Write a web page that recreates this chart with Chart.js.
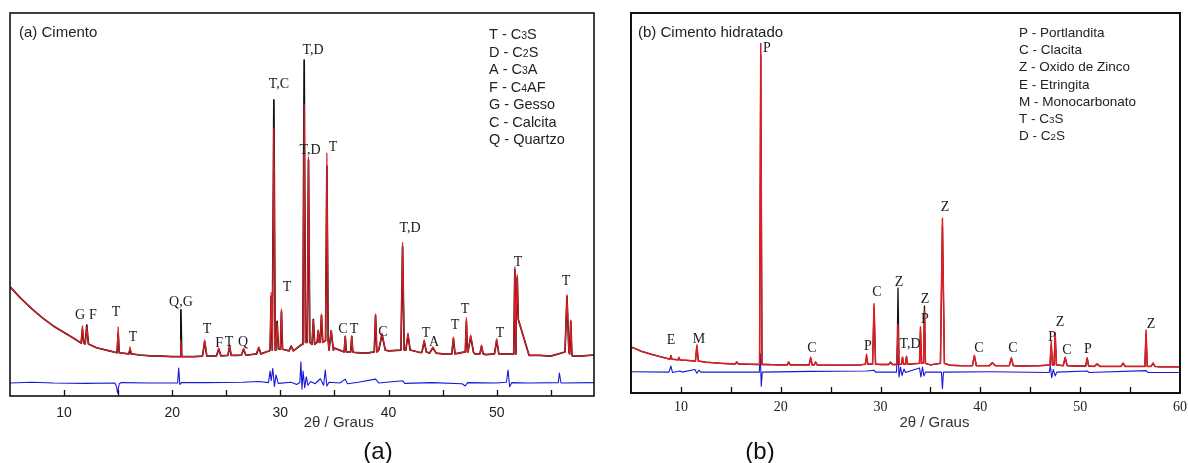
<!DOCTYPE html>
<html>
<head>
<meta charset="utf-8">
<script src="https://cdn.jsdelivr.net/npm/chart.js@4.4.1/dist/chart.umd.min.js"></script>
<style>
  body { margin: 0; background: #fff; }
  #wrap { position: relative; width: 1188px; height: 463px; overflow: hidden; }
  canvas { position: absolute; top: 0; }
</style>
</head>
<body>
<div id="wrap">
  <canvas id="chartA" width="600" height="463" style="left:0"></canvas>
  <canvas id="chartB" width="588" height="463" style="left:600px"></canvas>
</div>
<script>
// (a) Cimento - background of the pattern (2θ, intensity)
const cimBgX = [5, 5.5, 6, 7, 8, 9, 10, 11, 12, 13, 14, 15, 16, 17, 18, 19, 20, 21, 22, 24, 26, 27, 28, 29, 30, 31, 32, 33, 35, 36, 37, 38, 40, 42, 43, 44, 45, 46, 48, 49, 50, 52, 53, 54, 55, 57, 58, 59];
const cimBgY = [28.5, 27, 25.5, 22.8, 20.4, 18.3, 16.6, 14.9, 13.6, 12.6, 11.9, 11.3, 11.0, 10.7, 10.5, 10.4, 10.3, 10.3, 10.3, 10.5, 10.6, 10.7, 11, 11.8, 12.3, 12.2, 13.5, 13.5, 12.5, 11.5, 11.3, 11.2, 11.8, 11.8, 11.3, 11.2, 11, 11, 11, 10.8, 10.9, 11, 10.6, 10.6, 10.4, 10.4, 10.5, 10.7];
// peaks: position, observed top, calculated top, base level, half width (2θ)
const cimPeakPos  = [11.7, 12.1, 15.0, 16.1, 20.8, 23.0, 24.3, 25.3, 26.6, 28.0, 29.15, 29.4, 29.7, 30.1, 31.0, 32.2, 32.6, 33.05, 33.5, 33.8, 34.3, 34.7, 36.0, 36.6, 38.8, 39.4, 41.3, 41.8, 43.3, 44.1, 46.0, 47.2, 47.6, 48.6, 50.0, 51.68, 51.9, 56.5, 56.85];
const cimPeakObs  = [18.3, 18.0, 18.0, 12.8, 14.6, 14.6, 12.5, 13.3, 12.5, 12.8, 27, 70, 19, 22.7, 12.8, 76, 62.4, 19.8, 17.2, 21.4, 63.4, 17, 15.7, 15.7, 21.4, 16.4, 40, 16.4, 14.6, 12.8, 15.4, 20.4, 15.9, 13.3, 14.9, 33.7, 31.6, 26.4, 19.8];
const cimPeakCalc = [17.5, 18.5, 16.4, 12.0, 22.5, 14.2, 12.3, 13.0, 12.2, 12.6, 26, 77.3, 19.5, 22, 13, 87.7, 61.6, 20, 17, 21, 60, 17, 15.5, 15.5, 21, 16, 39, 16, 14.3, 12.6, 15, 19.5, 15.5, 13, 14.5, 33, 31, 26, 19.5];
const cimPeakBase = [13.8, 13.6, 11.3, 11.0, 10.3, 10.4, 10.5, 10.6, 10.7, 11.0, 12, 12, 12.2, 12.2, 11.8, 14, 14, 13.5, 14, 14, 14.5, 12, 11.5, 11.5, 11.5, 12, 12, 12, 11.5, 11.2, 11, 11.5, 11.5, 11, 11, 11, 20, 11.5, 11];
const cimPeakW    = [0.12, 0.15, 0.1, 0.12, 0.08, 0.2, 0.2, 0.15, 0.2, 0.2, 0.1, 0.12, 0.12, 0.1, 0.2, 0.12, 0.12, 0.12, 0.1, 0.12, 0.12, 0.2, 0.1, 0.1, 0.12, 0.3, 0.15, 0.2, 0.2, 0.3, 0.15, 0.1, 0.25, 0.15, 0.2, 0.1, 0.1, 0.18, 0.1];
// difference curve
const cimDiffX = [5, 7, 9, 12, 14.7, 14.85, 14.95, 15.1, 15.3, 18, 20.5, 20.6, 20.7, 20.85, 23, 26.5, 28, 28.9, 29.05, 29.15, 29.3, 29.45, 29.6, 29.8, 31, 31.5, 31.8, 31.9, 32.0, 32.1, 32.25, 32.4, 32.55, 32.8, 33.2, 33.7, 34.0, 34.15, 34.3, 34.5, 35.5, 36.0, 36.2, 37.2, 38.8, 39.1, 41.3, 41.5, 44, 46.8, 47.1, 47.3, 50, 50.9, 51.05, 51.2, 51.4, 53, 55.7, 55.8, 55.95, 59];
const cimDiffY = [3.4, 3.6, 3.4, 3.3, 3.4, 2.5, 0.8, 3.2, 3.5, 3.4, 3.4, 7.3, 3.0, 3.5, 3.5, 3.6, 3.8, 3.5, 6.5, 4, 7.2, 2.5, 5.5, 3.3, 3.6, 3.0, 3.5, 8.9, 1.8, 6.5, 2.2, 5, 2.8, 3.8, 3.2, 4.5, 2.8, 6.8, 2.6, 3.6, 3.4, 4.4, 3.2, 3.6, 4.4, 3.4, 4, 3.3, 3.5, 3.2, 2.6, 3.5, 3.4, 3.6, 6.8, 2.4, 3.5, 3.4, 3.5, 6.0, 3.4, 3.5];
// peak labels
const cimLabelText = ['G', 'F', 'T', 'T', 'Q,G', 'T', 'F', 'T', 'Q', 'T,C', 'T', 'T,D', 'T,D', 'T', 'T,D', 'C', 'T', 'C', 'T', 'A', 'T', 'T', 'T', 'T', 'T'];
const cimLabelX = [11.47, 12.67, 14.8, 16.37, 20.81, 23.22, 24.33, 25.25, 26.54, 29.87, 30.61, 33.02, 32.74, 34.87, 41.99, 35.79, 36.81, 39.49, 43.47, 44.21, 46.15, 47.07, 50.31, 51.97, 56.41];
const cimLabelY = [21.1, 21.1, 21.9, 15.4, 24.5, 17.5, 13.8, 14.1, 14.1, 81.5, 28.5, 90.3, 64.2, 65.0, 43.9, 17.5, 17.5, 16.7, 16.4, 14.1, 18.5, 22.5, 16.4, 35.0, 30.0];
const cimLegend = ['T - C3S', 'D - C2S', 'A - C3A', 'F - C4AF', 'G - Gesso', 'C - Calcita', 'Q - Quartzo'];

// (b) Cimento hidratado
const hidBgX = [5, 5.5, 6, 7, 8, 9.5, 10.5, 12.5, 14, 16, 18.5, 20, 22, 24, 26, 28, 30, 33, 35, 37, 38, 40, 42, 44, 46, 49.5, 52.5, 55, 58, 60];
const hidBgY = [12.1, 11.6, 11.0, 10.2, 9.5, 8.8, 8.6, 8.1, 7.8, 7.6, 7.5, 7.4, 7.4, 7.3, 7.3, 7.4, 7.5, 7.6, 7.4, 7.3, 7.2, 7.2, 7.2, 7.1, 7.2, 7.1, 7.0, 7.0, 6.9, 6.9];
const hidPeakPos  = [9.0, 9.8, 11.6, 15.6, 18.0, 20.8, 23.0, 23.5, 28.6, 29.35, 31.0, 31.75, 32.2, 32.6, 34.0, 34.4, 36.2, 39.4, 41.2, 43.1, 47.1, 47.5, 48.5, 50.7, 51.7, 54.3, 56.6, 57.3];
const hidPeakObs  = [9.7, 9.4, 12.6, 8.2, 92, 8.2, 9.4, 8.2, 10.2, 23.5, 8.2, 18, 9.5, 9.7, 17.4, 21.5, 46, 9.9, 8.0, 9.3, 13.5, 15.8, 9.4, 9.3, 7.7, 7.9, 16.6, 7.9];
const hidPeakCalc = [9.9, 9.2, 12.2, 8.0, 89, 8.0, 9.2, 8.0, 9.6, 22.5, 8.0, 27.6, 9.3, 9.5, 16.5, 22.9, 44, 9.7, 7.9, 9.1, 12.5, 14.8, 9.2, 9.1, 7.6, 7.8, 15.5, 7.8];
const hidPeakBase = [8.9, 8.7, 8.4, 7.6, 7.5, 7.4, 7.4, 7.4, 7.6, 7.6, 7.5, 7.5, 7.6, 7.6, 7.8, 7.8, 7.8, 7.2, 7.2, 7.2, 7.4, 7.4, 7.2, 7.1, 7.0, 7.0, 7.0, 7.0];
const hidPeakW    = [0.1, 0.1, 0.15, 0.2, 0.12, 0.15, 0.15, 0.15, 0.12, 0.15, 0.2, 0.1, 0.1, 0.1, 0.1, 0.1, 0.2, 0.2, 0.3, 0.2, 0.12, 0.12, 0.2, 0.15, 0.3, 0.2, 0.12, 0.2];
const hidDiffX = [5, 8.8, 9.0, 9.15, 9.9, 10.1, 11.4, 11.6, 11.8, 12.0, 17.85, 17.95, 18.05, 18.15, 23, 28.6, 29.35, 29.5, 31.6, 31.72, 31.85, 32.0, 32.15, 32.35, 32.5, 33.9, 34.05, 34.2, 34.35, 34.5, 36.1, 36.2, 36.3, 41, 46.9, 47.0, 47.15, 47.3, 47.5, 47.65, 50.7, 50.9, 56.6, 56.8, 60];
const hidDiffY = [5.6, 5.5, 7.1, 5.4, 5.8, 5.5, 6.2, 5.2, 6.0, 5.5, 5.5, 10.3, 1.8, 5.5, 5.7, 5.8, 6, 5.5, 5.5, 13.9, 4.2, 6.8, 4.6, 6.3, 5.4, 6.6, 4.2, 6.8, 4.5, 5.5, 5.5, 1.1, 5.5, 5.6, 5.4, 7.2, 4.0, 6.2, 4.5, 5.5, 5.8, 5.4, 5.9, 5.4, 5.4];
const hidLabelText = ['E', 'M', 'P', 'C', 'P', 'C', 'Z', 'T,D', 'Z', 'P', 'Z', 'C', 'C', 'P', 'Z', 'C', 'P', 'Z'];
const hidLabelX = [9.01, 11.81, 18.62, 23.13, 28.74, 29.64, 31.85, 32.95, 34.45, 34.45, 36.46, 39.86, 43.27, 47.18, 47.98, 48.68, 50.78, 57.09];
const hidLabelY = [13.9, 14.2, 90.8, 11.8, 12.4, 26.6, 29.2, 12.9, 24.7, 19.5, 48.9, 11.8, 11.8, 14.7, 18.7, 11.1, 11.6, 18.2];
const hidLegend = ['P - Portlandita', 'C - Clacita', 'Z - Oxido de Zinco', 'E - Etringita', 'M - Monocarbonato', 'T - C3S', 'D - C2S'];

const RED = 'rgb(226, 28, 34)';
const BLUE = 'rgb(24, 24, 218)';

// background + triangular peaks, sorted along 2θ
function buildProfile(bgX, bgY, pos, top, base, w) {
  const pts = [];
  bgX.forEach((x, i) => {
    const inside = pos.some((p, j) => x >= p - w[j] && x <= p + w[j]);
    if (!inside) pts.push({ x: x, y: bgY[i] });
  });
  pos.forEach((p, j) => {
    pts.push({ x: p - w[j], y: base[j] });
    pts.push({ x: p, y: top[j] });
    pts.push({ x: p + w[j], y: base[j] });
  });
  pts.sort((a, b) => a.x - b.x);
  return pts;
}

function pairs(xs, ys) {
  return xs.map((x, i) => ({ x: x, y: ys[i] }));
}

// legend text with small digits (C3S, C2S ...)
function drawRich(ctx, text, x, y, size) {
  let cx = x;
  for (const ch of text) {
    const small = /[0-9]/.test(ch);
    ctx.font = (small ? size * 0.72 : size) + 'px "Liberation Sans", Arial, sans-serif';
    ctx.fillText(ch, cx, y);
    cx += ctx.measureText(ch).width;
  }
}

function decorPlugin(opt) {
  return {
    id: 'decor',
    afterDraw(chart) {
      const ctx = chart.ctx;
      const a = chart.chartArea;
      const xs = chart.scales.x;
      const ys = chart.scales.y;
      ctx.save();
      // frame
      ctx.strokeStyle = '#111';
      ctx.lineWidth = opt.frame;
      ctx.strokeRect(a.left, a.top, a.right - a.left, a.bottom - a.top);
      // inward ticks
      ctx.lineWidth = 1.3;
      ctx.beginPath();
      for (let v = 10; v < xs.max; v += 5) {
        const px = Math.round(xs.getPixelForValue(v)) + 0.5;
        ctx.moveTo(px, a.bottom);
        ctx.lineTo(px, a.bottom - 6);
      }
      ctx.stroke();
      // panel title
      ctx.fillStyle = '#222';
      ctx.textAlign = 'left';
      ctx.textBaseline = 'alphabetic';
      ctx.font = '15px "Liberation Sans", Arial, sans-serif';
      ctx.fillText(opt.title, a.left + opt.titleDx, a.top + 24);
      // legend
      opt.legend.forEach((t, i) => {
        drawRich(ctx, t, opt.legendX, opt.legendY + i * opt.legendStep, opt.legendSize);
      });
      // peak labels
      ctx.fillStyle = '#1a1a1a';
      ctx.textAlign = 'center';
      ctx.textBaseline = 'middle';
      ctx.font = '14px "Liberation Serif", "Times New Roman", serif';
      opt.labelText.forEach((t, i) => {
        ctx.fillText(t, xs.getPixelForValue(opt.labelX[i]), ys.getPixelForValue(opt.labelY[i]));
      });
      // axis title
      ctx.fillStyle = '#333';
      ctx.font = '15px "Liberation Sans", Arial, sans-serif';
      ctx.fillText('2θ / Graus', xs.getPixelForValue(35.4), a.bottom + opt.axisDy);
      // caption
      ctx.fillStyle = '#111';
      ctx.font = '24px "Liberation Sans", Arial, sans-serif';
      ctx.fillText(opt.caption, opt.captionX, 452);
      ctx.restore();
    }
  };
}

function makeChart(id, cfg) {
  const obs = buildProfile(cfg.bgX, cfg.bgY, cfg.pos, cfg.obs, cfg.base, cfg.w);
  const calc = buildProfile(cfg.bgX, cfg.bgY, cfg.pos, cfg.calc, cfg.base, cfg.w);
  const diff = pairs(cfg.diffX, cfg.diffY);
  const red = { data: obs, borderColor: RED, borderWidth: cfg.redW, order: cfg.redOrder };
  const black = { data: calc, borderColor: '#111', borderWidth: cfg.blackW, order: cfg.blackOrder };
  const blue = { data: diff, borderColor: BLUE, borderWidth: 1.1, order: 3 };
  return new Chart(document.getElementById(id), {
    type: 'line',
    data: { datasets: [blue, black, red] },
    options: {
      responsive: false,
      animation: false,
      devicePixelRatio: 1,
      layout: { padding: cfg.padding },
      elements: { point: { radius: 0 }, line: { tension: 0, borderJoinStyle: 'round' } },
      plugins: { legend: { display: false }, tooltip: { enabled: false } },
      scales: {
        x: {
          type: 'linear',
          min: 5,
          max: cfg.xMax,
          grid: { display: false, drawTicks: false },
          border: { display: false },
          ticks: {
            stepSize: 5,
            autoSkip: false,
            maxRotation: 0,
            padding: cfg.tickPad,
            color: '#222',
            font: { family: cfg.tickFont, size: 14 },
            callback: v => (v % 10 === 0 ? v : '')
          },
          afterFit: s => {
            s.height = cfg.axisH;
            // let the end labels hang over the frame like in the original
            s.paddingLeft = 0;
            s.paddingRight = 0;
          }
        },
        y: { display: false, min: 0, max: 100 }
      }
    },
    plugins: [decorPlugin(cfg.decor)]
  });
}

makeChart('chartA', {
  bgX: cimBgX, bgY: cimBgY, pos: cimPeakPos, obs: cimPeakObs, calc: cimPeakCalc, base: cimPeakBase, w: cimPeakW,
  diffX: cimDiffX, diffY: cimDiffY,
  redW: 1.2, blackW: 1.7, redOrder: 1, blackOrder: 2,
  xMax: 59, padding: { left: 10, top: 13, right: 6, bottom: 0 }, axisH: 67, tickPad: 9,
  tickFont: '"Liberation Sans", Arial, sans-serif',
  decor: {
    frame: 1.6, title: '(a) Cimento', titleDx: 9,
    legend: cimLegend, legendX: 489, legendY: 39, legendStep: 17.5, legendSize: 14.5,
    labelText: cimLabelText, labelX: cimLabelX, labelY: cimLabelY,
    axisDy: 27, caption: '(a)', captionX: 378
  }
});

makeChart('chartB', {
  bgX: hidBgX, bgY: hidBgY, pos: hidPeakPos, obs: hidPeakObs, calc: hidPeakCalc, base: hidPeakBase, w: hidPeakW,
  diffX: hidDiffX, diffY: hidDiffY,
  redW: 1.5, blackW: 1.3, redOrder: 1, blackOrder: 2,
  xMax: 60, padding: { left: 31, top: 13, right: 8, bottom: 0 }, axisH: 70, tickPad: 6,
  tickFont: '"Liberation Serif", "Times New Roman", serif',
  decor: {
    frame: 2, title: '(b) Cimento hidratado', titleDx: 7,
    legend: hidLegend, legendX: 419, legendY: 37, legendStep: 17.2, legendSize: 13.5,
    labelText: hidLabelText, labelX: hidLabelX, labelY: hidLabelY,
    axisDy: 30, caption: '(b)', captionX: 160
  }
});
</script>
</body>
</html>
